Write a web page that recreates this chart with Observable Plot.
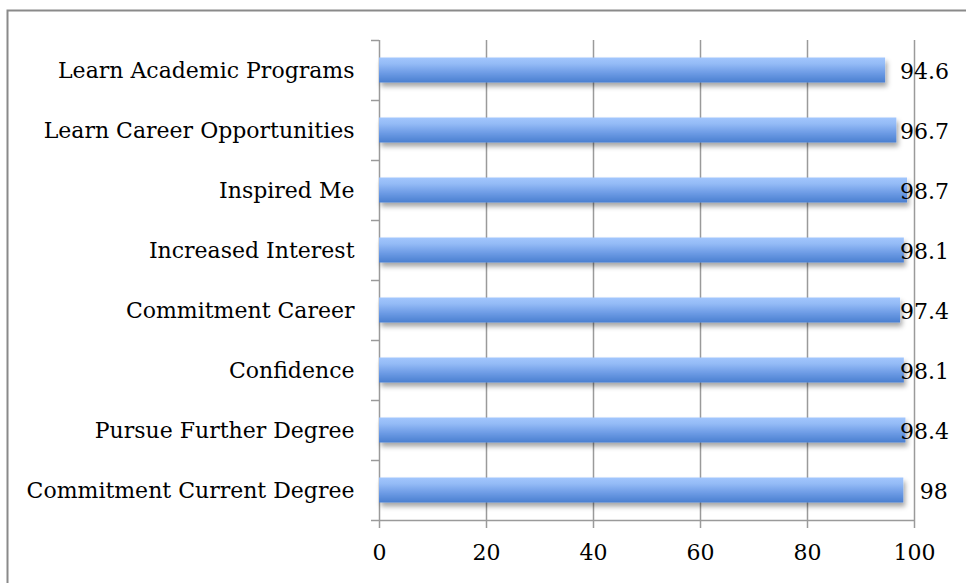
<!DOCTYPE html>
<html><head><meta charset="utf-8">
<script src="https://cdn.jsdelivr.net/npm/d3@7"></script>
<script src="https://cdn.jsdelivr.net/npm/@observablehq/plot@0.6"></script>
<style>
body{margin:0;background:#fff}
#chart{position:relative;width:966px;height:583px;overflow:hidden}
#chart svg{position:absolute;left:0;top:0}
</style>
</head><body><div id="chart"></div>
<script>
const categories = [
  "Learn Academic Programs",
  "Learn Career Opportunities",
  "Inspired Me",
  "Increased Interest",
  "Commitment Career",
  "Confidence",
  "Pursue Further Degree",
  "Commitment Current Degree"
];
const values = [94.6, 96.7, 98.7, 98.1, 97.4, 98.1, 98.4, 98];
const xTicks = [0, 20, 40, 60, 80, 100];

const data = categories.map((c, i) => ({c, i, v: values[i]}));
const idx = categories.map((c, i) => i);
const bounds = [...idx.map(i => i - 0.5), categories.length - 0.5];
const half = 25 / 60 / 2;
const FONT = "DejaVu Serif";

const defs = () => {
  const ns = "http://www.w3.org/2000/svg";
  const d = document.createElementNS(ns, "defs");
  d.innerHTML = `<linearGradient id="barGrad" x1="0" y1="0" x2="0" y2="1">
      <stop offset="0" stop-color="#a2c6fd"/>
      <stop offset="0.25" stop-color="#94bbf6"/>
      <stop offset="0.6" stop-color="#6f9de6"/>
      <stop offset="1" stop-color="#4a7fd0"/>
    </linearGradient>
    <filter id="shadow" x="-5%" y="-50%" width="110%" height="260%">
      <feDropShadow dx="2" dy="4" stdDeviation="2.5" flood-color="#000" flood-opacity="0.35"/>
    </filter>`;
  return d;
};

const plot = Plot.plot({
  width: 966,
  height: 583,
  marginLeft: 379,
  marginRight: 52,
  marginTop: 40,
  marginBottom: 63,
  style: {fontFamily: FONT, fontSize: "22px", color: "#000", background: "transparent"},
  x: {domain: [0, 100], label: null},
  y: {domain: [-0.5, categories.length - 0.5], reverse: true, label: null},
  marks: [
    defs,
    Plot.ruleX(xTicks, {stroke: "#9a9a9a", strokeWidth: 1.5, insetBottom: -8}),
    Plot.ruleY([categories.length - 0.5], {stroke: "#9a9a9a", strokeWidth: 1.5}),
    Plot.axisY(bounds, {tickSize: 8, tickFormat: () => "", stroke: "#9a9a9a", strokeWidth: 1.5, label: null}),
    Plot.axisY(idx, {tickSize: 0, tickPadding: 25, tickFormat: i => categories[i], fontSize: 22, fill: "#000", label: null}),
    Plot.axisX(xTicks, {tickSize: 0, tickPadding: 24, fontSize: 22, fill: "#000", label: null}),
    Plot.rectX(data, {x1: 0, x2: "v", y1: d => d.i - half, y2: d => d.i + half, fill: "url(#barGrad)"}),
    Plot.text(data, {x: "v", y: "i", text: d => String(d.v), textAnchor: "start", dx: 16, dy: 1, fontSize: 22, fill: "#000"})
  ]
});

const chart = document.getElementById("chart");
chart.appendChild(plot);

// shadow on bars
plot.querySelectorAll('g[aria-label="rect"]').forEach(g => g.setAttribute("filter", "url(#shadow)"));
// keep value labels inside the chart area
const limit = 949;
const base = plot.getBoundingClientRect().left;
plot.querySelectorAll('g[aria-label="text"] text').forEach(t => {
  const r = t.getBoundingClientRect();
  const over = r.right - base - limit;
  if (over > 0) t.setAttribute("dx", -over);
});
// chart border
const ns = "http://www.w3.org/2000/svg";
const border = document.createElementNS(ns, "rect");
border.setAttribute("x", 7.5); border.setAttribute("y", 10.5);
border.setAttribute("width", 1000); border.setAttribute("height", 1000);
border.setAttribute("fill", "none"); border.setAttribute("stroke", "#8a8a8a"); border.setAttribute("stroke-width", 2);
plot.appendChild(border);
</script>
</body></html>
